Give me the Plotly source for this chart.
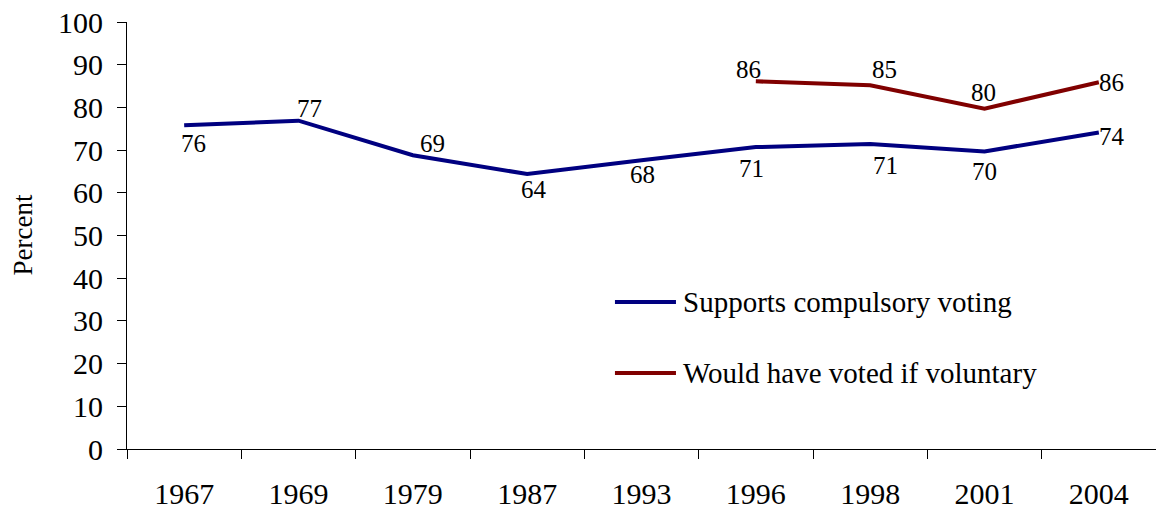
import plotly.graph_objects as go

years = ["1967", "1969", "1979", "1987", "1993", "1996", "1998", "2001", "2004"]
supports = [75.8, 76.9, 68.8, 64.4, 67.6, 70.7, 71.4, 69.7, 74.1]
supports_labels = ["76", "77", "69", "64", "68", "71", "71", "70", "74"]
voted_years = ["1996", "1998", "2001", "2004"]
voted = [86.1, 85.2, 79.7, 85.9]
voted_labels = ["86", "85", "80", "86"]

name_supports = "Supports compulsory voting"
name_voted = "Would have voted if voluntary"
y_title = "Percent"

# label offsets (px) relative to each point
sup_dx = [9, 11, 20, 7, 1, -4, 15, 0, 13]
sup_dy = [-18, 12, 12, -15, -14, -21, -21, -20, -4]
vot_dx = [-7, 14, -1, 13]
vot_dy = [12, 16, 16, 0]

FONT = "Liberation Serif, Times New Roman, serif"
BLUE = "#000080"
RED = "#800000"

fig = go.Figure()
fig.add_trace(go.Scatter(x=years, y=supports, mode="lines", name=name_supports,
                         line=dict(color=BLUE, width=4), showlegend=False))
fig.add_trace(go.Scatter(x=voted_years, y=voted, mode="lines", name=name_voted,
                         line=dict(color=RED, width=4), showlegend=False))

ann = []
for x, y, t, dx, dy in zip(years, supports, supports_labels, sup_dx, sup_dy):
    ann.append(dict(x=years.index(x), y=y, text=t, showarrow=False, xshift=dx, yshift=dy,
                    font=dict(family=FONT, size=25, color="black")))
for x, y, t, dx, dy in zip(voted_years, voted, voted_labels, vot_dx, vot_dy):
    ann.append(dict(x=years.index(x), y=y, text=t, showarrow=False, xshift=dx, yshift=dy,
                    font=dict(family=FONT, size=25, color="black")))

# legend
shapes = []
for name, color, yp in [(name_supports, BLUE, 0.3443), (name_voted, RED, 0.178)]:
    shapes.append(dict(type="line", xref="paper", yref="paper", x0=0.4742, x1=0.5335,
                       y0=yp, y1=yp, line=dict(color=color, width=4)))
    ann.append(dict(xref="paper", yref="paper", x=0.5384, y=yp, text=name, showarrow=False,
                    xanchor="left", yanchor="middle",
                    font=dict(family=FONT, size=29, color="black")))

# y-axis title
ann.append(dict(xref="paper", yref="paper", x=-0.102, y=0.5, text=y_title, showarrow=False,
                textangle=-90, xanchor="center", yanchor="middle",
                font=dict(family=FONT, size=27, color="black")))

fig.update_layout(
    width=1156, height=511,
    margin=dict(l=127, r=0, t=22, b=62),
    paper_bgcolor="white", plot_bgcolor="white",
    font=dict(family=FONT, size=30, color="black"),
    annotations=ann, shapes=shapes,
    showlegend=False,
)
fig.update_xaxes(type="category", categoryorder="array", categoryarray=years,
                 range=[-0.5, 8.5], showline=True, linecolor="black", linewidth=1,
                 ticks="outside", ticklen=9, tickcolor="black", tickson="boundaries",
                 showgrid=False, zeroline=False, ticklabelstandoff=18, automargin=False,
                 ticklabeloverflow="allow", tickfont=dict(family=FONT, size=30))
fig.update_yaxes(range=[0, 100], dtick=10, showline=True, linecolor="black", linewidth=1,
                 ticks="outside", ticklen=9, tickcolor="black", showgrid=False,
                 zeroline=False, tickfont=dict(family=FONT, size=30), automargin=False,
                 ticklabelstandoff=8, ticklabeloverflow="allow")

# remove the browser's default 8px body margin so the figure fills the window
fig.write_html("out.html", config={"displayModeBar": False},
               post_script="document.body.style.margin='0';")
